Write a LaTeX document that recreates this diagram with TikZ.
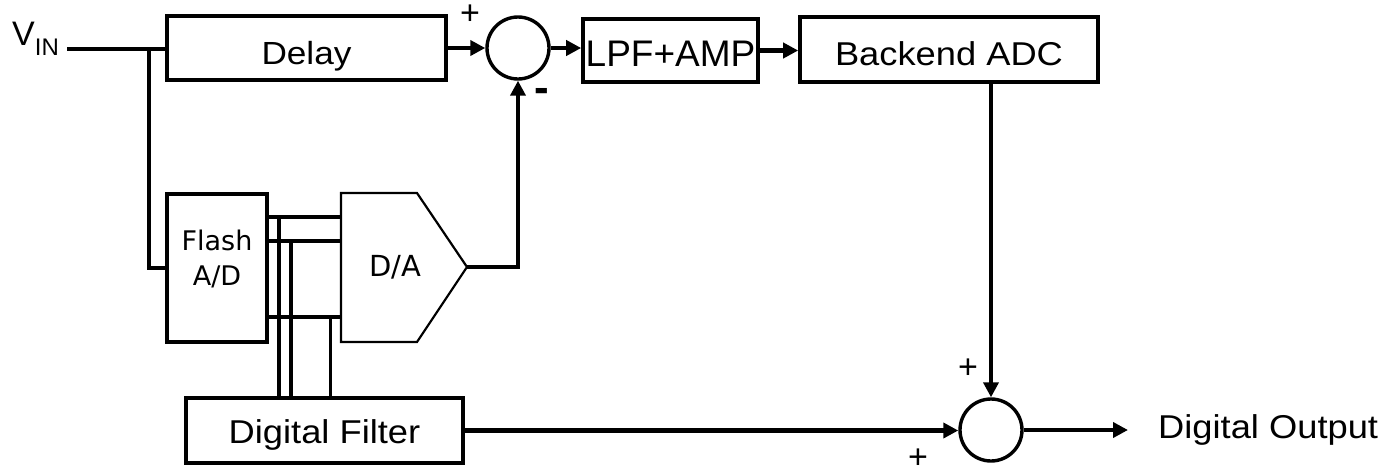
\documentclass[tikz,border=0pt]{standalone}
\usepackage{fontspec}
\setmainfont{Liberation Sans}
\newfontfamily\tahomafont{DejaVu Sans}
\usetikzlibrary{arrows.meta,calc}
\newcommand{\hstretch}[1]{\scalebox{1.1}[1]{#1}}
\newcommand{\lowr}[2]{\raisebox{-#1}[\height][\depth]{#2}}
\begin{document}
\begin{tikzpicture}[x=1pt,y=-1pt,
  blk/.style={draw, line width=3.6pt, inner sep=0pt, font=\fontsize{33}{36}\selectfont},
  sumc/.style={draw, circle, line width=3.4pt, minimum size=62pt, inner sep=0pt},
  wire/.style={line width=3.6pt},
  arr/.style={line width=4.2pt, -{Triangle[length=15pt,width=15pt]}},
  bus/.style={line width=3.2pt},
  sign/.style={font=\fontsize{34}{34}\selectfont, inner sep=0pt},
  small/.style={font=\tahomafont\fontsize{27}{35}\selectfont, text=black},
  ]
\useasboundingbox (0,0) rectangle (1385,475);

% input label
\node[anchor=base west, inner sep=0pt, font=\fontsize{34}{36}\selectfont] (vin) at (12,45)
  {V\raisebox{-10pt}{\fontsize{24}{24}\selectfont IN}};

% top row
\node[blk, minimum width=279pt, minimum height=64pt, font=\fontsize{32}{36}\selectfont] (delay) at (306.5,48) {\lowr{8.5pt}{\hstretch{Delay}}};
\node[sumc] (sum1) at (518,48) {};
\node[blk, minimum width=175pt, minimum height=63pt, font=\fontsize{37}{40}\selectfont] (lpf) at (670.5,50.5) {\lowr{3pt}{LPF+AMP}};
\node[blk, minimum width=298pt, minimum height=65pt] (backend) at (949,49.5) {\lowr{3.8pt}{\hstretch{Backend ADC}}};

% flash A/D and D/A
\node[blk, minimum width=100pt, minimum height=148pt, small] (flash) at (217,268)
  {\raisebox{7.5pt}[\height][\depth]{\begin{tabular}{@{}c@{}}Flash\\A/D\end{tabular}}};
\draw[line width=2.2pt, line join=miter] (341,193) -- (417,193) -- (467,267) -- (417,342) -- (341,342) -- cycle;
\coordinate (datip) at (467,267);
\coordinate (dal) at (341,267);
\node[small, font=\tahomafont\fontsize{29}{35}\selectfont, anchor=base, inner sep=0pt] (da) at (395,276) {D/A};

% digital filter, output adder
\node[blk, minimum width=277pt, minimum height=65pt] (df) at (324.5,430.5) {\lowr{4.3pt}{\hstretch{Digital Filter}}};
\node[sumc] (sum2) at (991,430) {};
\node[anchor=west, inner ysep=0pt, inner xsep=30pt, font=\fontsize{33}{36}\selectfont] (out) at (1128,430) {\hstretch{Digital Output}};

% signs
\node[sign] (p1) at (470,15) {+};
\node[sign, font=\fontsize{44}{44}\selectfont\bfseries] (m1) at (542,95) {-};
\node[sign] (p2) at (968,369) {+};
\node[sign] (p3) at (918,459) {+};

% connectors
\coordinate (vinend) at (67,49);
\coordinate (br) at (149,49);
\draw[wire] (vinend) -- (vinend -| delay.west);
\draw[wire] (br) |- (flash.west);
\draw[arr, line width=4.6pt] (delay.east) -- (sum1.west);
\draw[arr] (sum1.east) -- (sum1.east -| lpf.west);
\draw[arr] (lpf.east) -- (lpf.east -| backend.west);
\draw[arr] (sum2.north |- backend.south) -- (sum2.north);
\draw[arr] (datip) -| (sum1.south);
\draw[arr] (df.east) -- (df.east -| sum2.west);
\draw[arr] (sum2.east) -- (out.west);

% bus lines
\coordinate (b1) at (0,217);
\coordinate (b2) at (0,241);
\coordinate (b3) at (0,317);
\coordinate (j1) at (279,217);
\coordinate (j2) at (291,241);
\coordinate (j3) at (330,317);
\draw[bus] (b1 -| flash.east) -- (b1 -| dal);
\draw[bus] (b2 -| flash.east) -- (b2 -| dal);
\draw[bus] (b3 -| flash.east) -- (b3 -| dal);
\draw[bus] (j1) -- (j1 |- df.north);
\draw[bus] (j2) -- (j2 |- df.north);
\draw[bus, line width=3pt] (j3) -- (j3 |- df.north);
\end{tikzpicture}
\end{document}
